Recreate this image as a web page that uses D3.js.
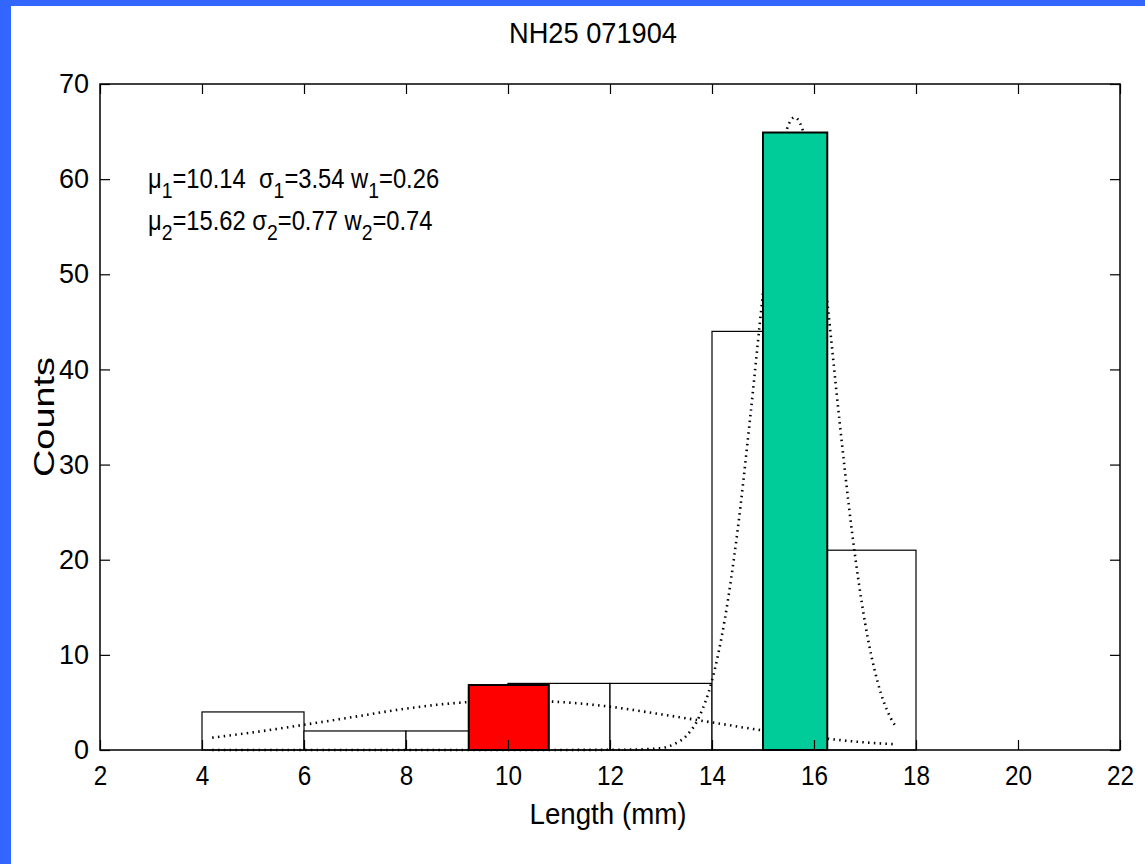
<!DOCTYPE html>
<html>
<head>
<meta charset="utf-8">
<script src="https://cdn.jsdelivr.net/npm/d3@7"></script>
<style>
  html, body { margin: 0; padding: 0; background: #3366ff; }
  svg { display: block; }
  text { font-family: "Liberation Sans", Arial, sans-serif; fill: #000; }
</style>
</head>
<body>
<svg id="chart" width="1145" height="864"></svg>
<script>
// ---------- data ----------
const title = "NH25 071904";
const xLabel = "Length (mm)";
const yLabel = "Counts";
const xTicks = [2, 4, 6, 8, 10, 12, 14, 16, 18, 20, 22];
const yTicks = [0, 10, 20, 30, 40, 50, 60, 70];

// histogram bins (start, end) and counts
const binStart = [4, 6, 8, 10, 12, 14, 16];
const binEnd   = [6, 8, 10, 12, 14, 16, 18];
const binCount = [4, 2, 2, 7, 7, 44, 21];

// highlighted mode bars
const modeStart = [9.23, 15.0];
const modeEnd   = [10.80, 16.26];
const modeCount = [6.83, 64.9];
const modeColor = ["#ff0000", "#00cc99"];

// fitted component curves
const curve1X = [4.2, 5, 6, 7, 8, 9, 10, 11, 12, 13, 14, 15, 16, 17, 17.6];
const curve1Y = [1.3, 1.85, 2.65, 3.5, 4.35, 4.95, 5.2, 5.05, 4.55, 3.75, 2.9, 2.05, 1.35, 0.8, 0.6];
const curve2X = [4.2, 6, 8, 10, 12, 12.5, 13, 13.25, 13.5, 13.75, 14, 14.25, 14.5, 14.75, 15, 15.25, 15.5, 15.62, 15.75, 16, 16.25, 16.5, 16.75, 17, 17.25, 17.5, 17.6];
const curve2Y = [0, 0, 0, 0, 0.02, 0.05, 0.2, 0.6, 1.5, 3.5, 7.3, 13.7, 23, 35, 48, 59.3, 65.7, 66.5, 65.6, 58.9, 47.6, 34.6, 22.7, 13.4, 7.1, 3.4, 2.5];

// fit parameters
const mu = ["10.14", "15.62"];
const sigma = ["3.54", "0.77"];
const weight = ["0.26", "0.74"];

// ---------- drawing ----------
const svg = d3.select("#chart");
// white paper (blue strip at left and top)
svg.append("rect").attr("x", 11).attr("y", 6).attr("width", 1145 - 11).attr("height", 864 - 6).attr("fill", "#fff");

const L = 100, R = 1120, T = 84, B = 750;
const x = d3.scaleLinear().domain([2, 22]).range([L, R]);
const y = d3.scaleLinear().domain([0, 70]).range([B, T]);

// title
svg.append("text")
  .attr("x", 593).attr("y", 43)
  .attr("text-anchor", "middle")
  .attr("font-size", 30)
  .attr("textLength", 168).attr("lengthAdjust", "spacingAndGlyphs")
  .text(title);

// histogram bars
const binData = binStart.map((s, i) => ({ s, e: binEnd[i], c: binCount[i] }));
svg.append("g").selectAll("rect").data(binData).join("rect")
  .attr("x", d => x(d.s)).attr("y", d => y(d.c))
  .attr("width", d => x(d.e) - x(d.s)).attr("height", d => y(0) - y(d.c))
  .attr("fill", "#fff").attr("stroke", "#000").attr("stroke-width", 1.2);

// curves
const line = d3.line().x(d => x(d[0])).y(d => y(d[1])).curve(d3.curveMonotoneX);
[[curve1X, curve1Y], [curve2X, curve2Y]].forEach(([cx, cy]) => {
  svg.append("path")
    .attr("d", line(cx.map((v, i) => [v, cy[i]])))
    .attr("fill", "none").attr("stroke", "#000")
    .attr("stroke-width", 2.6).attr("stroke-dasharray", "1.5,4.3");
});

// mode bars
const modeData = modeStart.map((s, i) => ({ s, e: modeEnd[i], c: modeCount[i], col: modeColor[i] }));
svg.append("g").selectAll("rect").data(modeData).join("rect")
  .attr("x", d => x(d.s)).attr("y", d => y(d.c))
  .attr("width", d => x(d.e) - x(d.s)).attr("height", d => y(0) - y(d.c))
  .attr("fill", d => d.col).attr("stroke", "#000").attr("stroke-width", 2);

// axes
const fs = 27;
const gx = svg.append("g").attr("transform", `translate(0,${B})`)
  .call(d3.axisBottom(x).tickValues(xTicks).tickSize(-10).tickPadding(16).tickFormat(d3.format("d")));
const gxt = svg.append("g").attr("transform", `translate(0,${T})`)
  .call(d3.axisTop(x).tickValues(xTicks).tickSize(-10).tickFormat(""));
const gy = svg.append("g").attr("transform", `translate(${L},0)`)
  .call(d3.axisLeft(y).tickValues(yTicks).tickSize(-10).tickPadding(11).tickFormat(d3.format("d")));
const gyr = svg.append("g").attr("transform", `translate(${R},0)`)
  .call(d3.axisRight(y).tickValues(yTicks).tickSize(-10).tickFormat(""));
[gx, gxt, gy, gyr].forEach(g => {
  g.select(".domain").remove();
  g.selectAll(".tick line").attr("stroke", "#000").attr("stroke-width", 1.2);
  g.selectAll(".tick text").attr("font-size", fs).attr("font-family", '"Liberation Sans", Arial, sans-serif').attr("fill", "#000");
});
gx.selectAll(".tick text").attr("transform", "scale(0.9,1)");

// frame
svg.append("rect").attr("x", L).attr("y", T).attr("width", R - L).attr("height", B - T)
  .attr("fill", "none").attr("stroke", "#000").attr("stroke-width", 1.5);

// axis labels
svg.append("text")
  .attr("x", 608).attr("y", 824).attr("text-anchor", "middle")
  .attr("font-size", 30).attr("textLength", 157).attr("lengthAdjust", "spacingAndGlyphs")
  .text(xLabel);
svg.append("text")
  .attr("transform", "translate(54,417) rotate(-90)")
  .attr("text-anchor", "middle").attr("font-size", 30)
  .attr("textLength", 120).attr("lengthAdjust", "spacingAndGlyphs")
  .text(yLabel);

// parameter annotation
const ann = svg.append("g").attr("font-size", 27);
const lineY = [188, 230];
const gaps = ["  ", " "];
mu.forEach((m, i) => {
  const t = ann.append("text").attr("x", 148).attr("y", lineY[i]).style("white-space", "pre");
  const k = String(i + 1);
  const parts = [
    ["\u03bc", 0], [k, 1], ["=" + m + gaps[i] + "\u03c3", 0], [k, 1], ["=" + sigma[i] + " w", 0], [k, 1], ["=" + weight[i], 0]
  ];
  let prevSub = false;
  parts.forEach(([s, sub]) => {
    const ts = t.append("tspan").text(s);
    if (sub) { ts.attr("dy", 10).attr("font-size", 22); }
    else if (prevSub) { ts.attr("dy", -10); }
    prevSub = !!sub;
  });
  t.attr("transform", `translate(${148 * (1 - 0.88)},0) scale(0.88,1)`);
});
</script>
</body>
</html>
